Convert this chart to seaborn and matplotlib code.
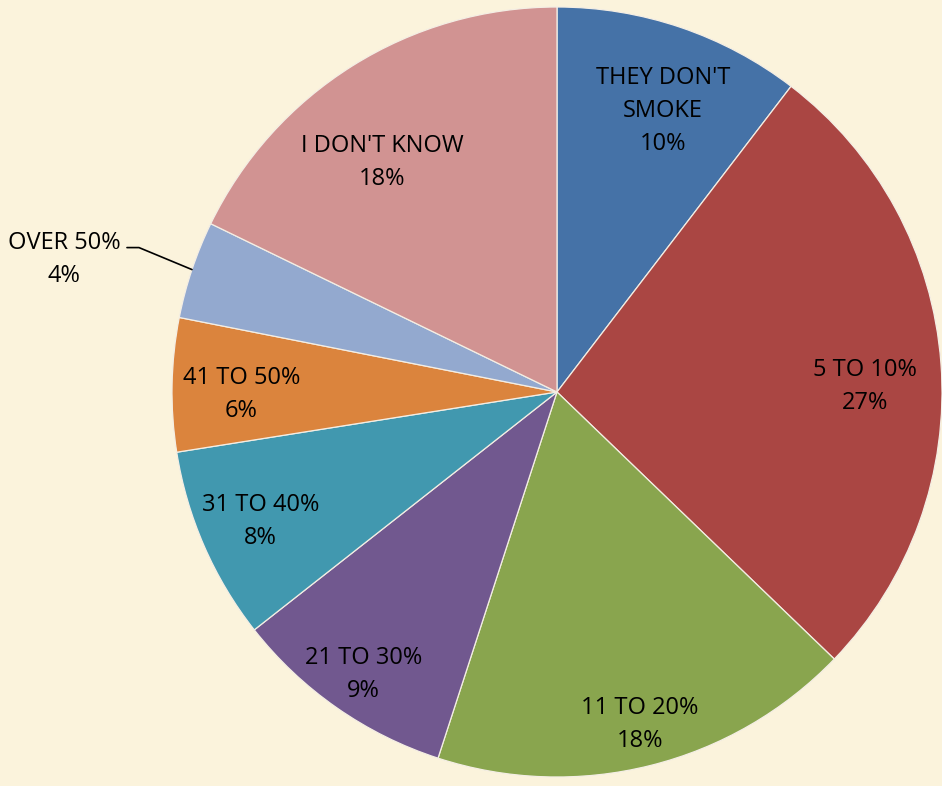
import numpy as np
import matplotlib
matplotlib.use("Agg")
import matplotlib.pyplot as plt
import seaborn as sns

# --- DATA ---
labels = ["THEY DON'T\nSMOKE", "5 TO 10%", "11 TO 20%", "21 TO 30%",
          "31 TO 40%", "41 TO 50%", "OVER 50%", "I DON'T KNOW"]
shares = [10.4, 26.8, 17.8, 9.4, 8.1, 5.6, 4.1, 17.8]
colors = ["#4572A7", "#AA4643", "#89A54E", "#71588F",
          "#4198AF", "#DB843D", "#93A9CF", "#D19392"]
# label placement: fraction of radius, and angular nudge (deg) off the wedge middle
label_dist = [0.78, 0.80, 0.89, 0.89, 0.84, 0.82, None, 0.75]
label_shift = [-2, -3.3, 0, 0.6, 0, 1.5, 0, 5.2]

BG = "#FBF3DC"
W, H = 942, 786
CX, CY, R = 557, H - 392, 385

sns.set_theme(style="white")
plt.rcParams['font.family'] = ['Open Sans', 'DejaVu Sans']

fig = plt.figure(figsize=(W / 100, H / 100), dpi=100, facecolor=BG)
ax = fig.add_axes([0, 0, 1, 1])
ax.set_facecolor(BG)

wedges, _ = ax.pie(shares, colors=colors, startangle=90, counterclock=False,
                   center=(CX, CY), radius=R, frame=True,
                   wedgeprops=dict(edgecolor="#F4EEE4", linewidth=0.9))
ax.set_xlim(0, W)
ax.set_ylim(0, H)
ax.set_aspect("equal")
ax.axis("off")

total = sum(shares)
for w, lab, val, d, sh in zip(wedges, labels, shares, label_dist, label_shift):
    mid = np.deg2rad((w.theta1 + w.theta2) / 2 + sh)
    txt = f"{lab}\n{round(100 * val / total)}%"
    if d is not None:
        ax.text(CX + d * R * np.cos(mid), CY + d * R * np.sin(mid), txt,
                ha="center", va="center", fontsize=17, color="black",
                linespacing=1.5)
    else:
        ex, ey = CX + R * np.cos(mid), CY + R * np.sin(mid)
        # leader line: edge -> elbow -> short horizontal
        kx, ky = ex - 53, ey + 22
        ax.plot([ex, kx, kx - 12], [ey, ky, ky], color="black", lw=1.2)
        ax.text(kx - 75, ky - 12, txt, ha="center", va="center",
                fontsize=17, color="black", linespacing=1.5)

fig.savefig("out.png", dpi=100, facecolor=BG)
